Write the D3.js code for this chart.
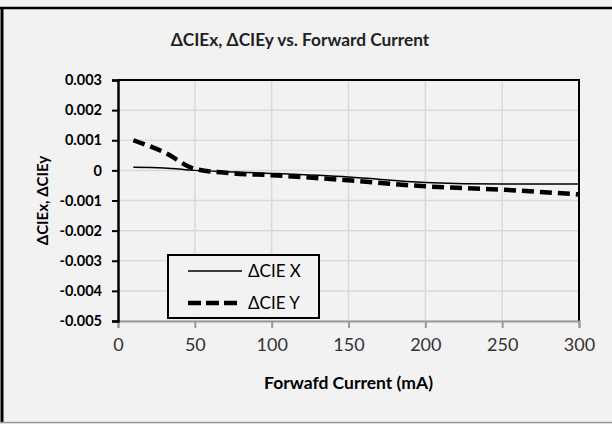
<!DOCTYPE html>
<html>
<head>
<meta charset="utf-8">
<script src="https://cdn.jsdelivr.net/npm/d3@7"></script>
<style>
  html, body { margin: 0; padding: 0; background: #f2f2f2; }
  svg { display: block; font-family: Lato, "Open Sans", sans-serif; }
</style>
</head>
<body>
<div id="chart"></div>
<script>
// values
var current = [10, 30, 50, 75, 100, 150, 200, 250, 300];
var cieX = [0.0001, 0.00008, 0.0, -0.00005, -0.0001, -0.00022, -0.0004, -0.00045, -0.00045];
var cieY = [0.001, 0.0006, 0.00005, -0.0001, -0.00016, -0.00033, -0.00053, -0.00064, -0.0008];
var xTicks = [0, 50, 100, 150, 200, 250, 300];
var yTicks = [0.003, 0.002, 0.001, 0, -0.001, -0.002, -0.003, -0.004, -0.005];
var yTickLabels = ["0.003", "0.002", "0.001", "0", "-0.001", "-0.002", "-0.003", "-0.004", "-0.005"];
var seriesNames = ["\u0394CIE X", "\u0394CIE Y"];

var W = 612, H = 424;
var pad = {l: 118, r: 33, t: 80, b: 103};

var svg = d3.select('#chart').append('svg')
		.attr('width', W)
		.attr('height', H);

// chart frame
svg.append('line').attr('x1', 2).attr('x2', 2).attr('y1', 7).attr('y2', 423)
		.attr('stroke', '#000').attr('stroke-width', 3);
svg.append('line').attr('x1', 0).attr('x2', W).attr('y1', 8).attr('y2', 8)
		.attr('stroke', '#000').attr('stroke-width', 2.5);
svg.append('line').attr('x1', 0).attr('x2', W).attr('y1', 422.5).attr('y2', 422.5)
		.attr('stroke', '#999').attr('stroke-width', 1.5);

var x = d3.scaleLinear()
		.domain([0, 300])
		.range([pad.l, W - pad.r]);

var y = d3.scaleLinear()
		.domain([-0.005, 0.003])
		.range([H - pad.b, pad.t]);

// grid
svg.append('g')
		.selectAll('line')
		.data(xTicks.slice(1))
		.enter()
		.append('line')
			.attr('x1', d => x(d)).attr('x2', d => x(d))
			.attr('y1', pad.t).attr('y2', H - pad.b)
			.attr('stroke', '#d9d9d9').attr('stroke-width', 1.5);

svg.append('g')
		.selectAll('line')
		.data(yTicks.slice(1))
		.enter()
		.append('line')
			.attr('x1', pad.l).attr('x2', W - pad.r)
			.attr('y1', d => y(d)).attr('y2', d => y(d))
			.attr('stroke', '#d9d9d9').attr('stroke-width', 1.5);

// top and right border of plot
svg.append('path')
		.attr('d', 'M' + pad.l + ',' + y(0.003) + 'H' + x(300) + 'V' + y(-0.005))
		.attr('fill', 'none').attr('stroke', '#000').attr('stroke-width', 2);

// x axis
var xAxis = d3.axisBottom(x)
		.tickValues(xTicks)
		.tickSize(7)
		.tickPadding(10);

svg.append('g')
		.attr('transform', 'translate(0,' + (H - pad.b) + ')')
	.call(xAxis)
	.call(g => g.select('.domain').attr('stroke', '#999').attr('stroke-width', 2))
	.call(g => g.selectAll('.tick line').attr('stroke', '#999').attr('stroke-width', 2))
	.call(g => g.selectAll('.tick text')
			.attr('font-family', 'Lato, sans-serif')
			.attr('font-size', 18)
			.attr('fill', '#333'));

// y axis
var yAxis = d3.axisLeft(y)
		.tickValues(yTicks)
		.tickFormat((d, i) => yTickLabels[i])
		.tickSize(6)
		.tickPadding(10);

svg.append('g')
		.attr('transform', 'translate(' + pad.l + ',0)')
	.call(yAxis)
	.call(g => g.select('.domain').attr('stroke', '#000').attr('stroke-width', 2.5))
	.call(g => g.selectAll('.tick line').attr('stroke', '#000').attr('stroke-width', 2))
	.call(g => g.selectAll('.tick text')
			.attr('font-family', 'Lato, sans-serif')
			.attr('font-weight', 'bold')
			.attr('font-size', 14.5)
			.attr('fill', '#000'));

// series
var line = d3.line()
		.x((d, i) => x(current[i]))
		.y(d => y(d))
		.curve(d3.curveMonotoneX);

svg.append('path')
		.datum(cieX)
		.attr('d', line)
		.attr('fill', 'none')
		.attr('stroke', '#000')
		.attr('stroke-width', 1.5);

svg.append('path')
		.datum(cieY)
		.attr('d', line)
		.attr('fill', 'none')
		.attr('stroke', '#000')
		.attr('stroke-width', 4.5)
		.attr('stroke-dasharray', '12,6');

// titles
svg.append('text')
		.attr('x', 300)
		.attr('y', 46)
		.attr('text-anchor', 'middle')
		.attr('font-weight', 'bold')
		.attr('font-size', 17.3)
		.attr('fill', '#222')
		.text('\u0394CIEx, \u0394CIEy vs. Forward Current');

svg.append('text')
		.attr('x', (pad.l + W - pad.r) / 2)
		.attr('y', 389)
		.attr('text-anchor', 'middle')
		.attr('font-weight', 'bold')
		.attr('font-size', 17.5)
		.attr('fill', '#000')
		.text('Forwafd Current (mA)');

svg.append('text')
		.attr('transform', 'translate(48,' + ((pad.t + H - pad.b) / 2) + ') rotate(-90)')
		.attr('text-anchor', 'middle')
		.attr('font-weight', 'bold')
		.attr('font-size', 15)
		.attr('fill', '#000')
		.text('\u0394CIEx, \u0394CIEy');

// legend
var lg = svg.append('g').attr('transform', 'translate(168,255)');
lg.append('rect')
		.attr('width', 151).attr('height', 63)
		.attr('fill', '#f2f2f2')
		.attr('stroke', '#000').attr('stroke-width', 2);

var rows = lg.selectAll('g.row')
		.data(seriesNames)
		.enter()
		.append('g')
			.attr('transform', (d, i) => 'translate(0,' + (16 + i * 32) + ')');

rows.append('line')
		.attr('x1', 20).attr('x2', 74)
		.attr('stroke', '#000')
		.attr('stroke-width', (d, i) => i ? 4.5 : 1.5)
		.attr('stroke-dasharray', (d, i) => i ? '13,5' : null);

rows.append('text')
		.attr('x', 80)
		.attr('dy', '0.35em')
		.attr('font-size', 17)
		.attr('fill', '#000')
		.text(d => d);
</script>
</body>
</html>
